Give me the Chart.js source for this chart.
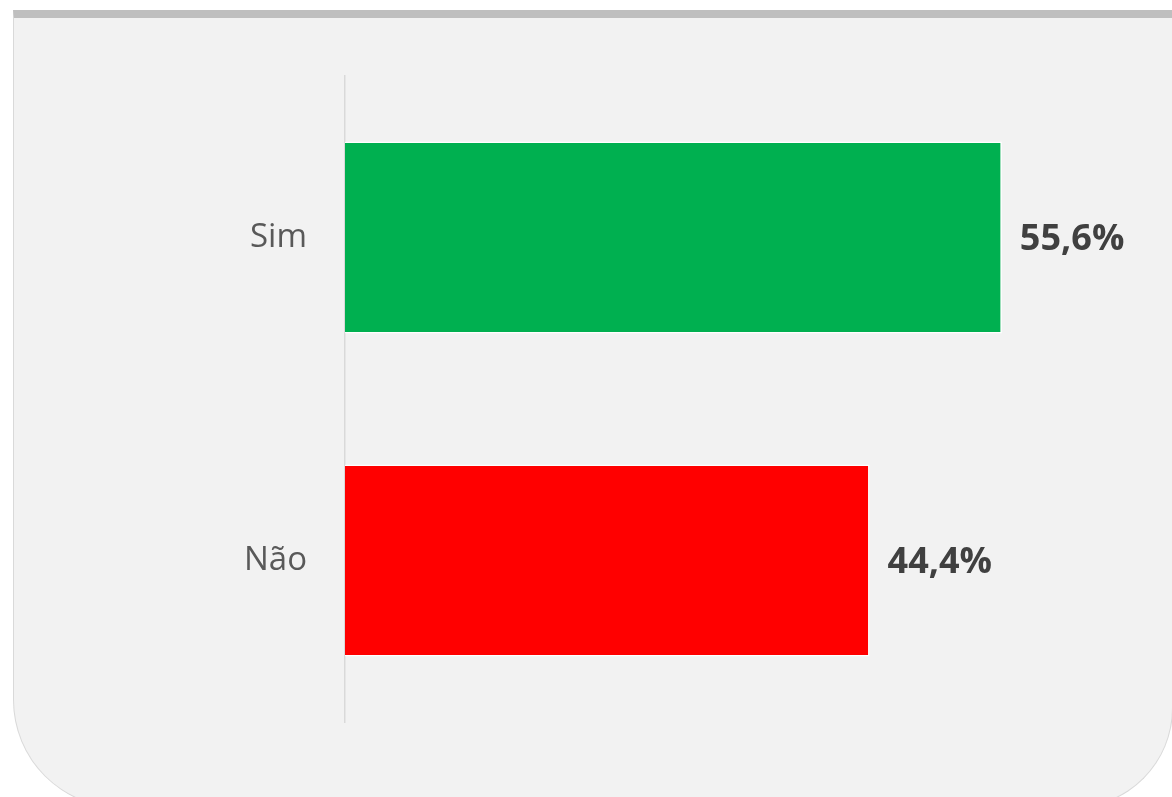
<!DOCTYPE html>
<html>
<head>
<meta charset="utf-8">
<script src="https://cdn.jsdelivr.net/npm/chart.js@4/dist/chart.umd.min.js"></script>
<style>
  html, body { margin: 0; padding: 0; background: #ffffff; overflow: hidden; }
  body { width: 1172px; height: 797px; position: relative; }
  #panel {
    position: absolute; left: 13px; top: 10px;
    width: 1158px; height: 789px;
    background: #f2f2f2;
    border-top: 8px solid #bfbfbf;
    border-left: 1px solid #d9d9d9;
    border-right: 1px solid #d9d9d9;
    border-bottom: 1px solid #d9d9d9;
    border-bottom-left-radius: 108px;
    border-bottom-right-radius: 100px;
  }
  #wrap { position: absolute; left: 0; top: 0; width: 1172px; height: 797px; }
</style>
</head>
<body>
<div id="panel"></div>
<div id="wrap"><canvas id="myChart"></canvas></div>
<script>
// categories and values (percent)
let categories = ["Sim", "Não"];
let values = [55.6, 44.4];

let barColors = ["#00b050", "#ff0000"];

// draws "55,6%" next to each bar
let valueLabels = {
  id: 'valueLabels',
  afterDatasetsDraw(chart) {
    let ctx = chart.ctx;
    let meta = chart.getDatasetMeta(0);
    ctx.save();
    ctx.font = 'bold 36px "Open Sans"';
    ctx.fillStyle = '#404040';
    ctx.textAlign = 'left';
    ctx.textBaseline = 'middle';
    meta.data.forEach(function (bar, i) {
      let txt = values[i].toFixed(1).replace('.', ',') + '%';
      ctx.fillText(txt, bar.x + 18, bar.y + 2);
    });
    ctx.restore();
  }
};

var ctx = document.getElementById('myChart').getContext('2d');
var myBarchart = new Chart(ctx, {
  type: 'bar',
  data: {
    labels: categories,
    datasets: [{
      data: values,
      backgroundColor: barColors,
      borderColor: '#ffffff',
      borderWidth: 1.5,
      categoryPercentage: 1,
      barPercentage: 0.595
    }]
  },
  options: {
    indexAxis: 'y',
    responsive: true,
    maintainAspectRatio: false,
    animation: false,
    layout: {
      padding: { left: 0, right: 0, top: 76, bottom: 75 }
    },
    plugins: {
      legend: { display: false },
      tooltip: { enabled: false }
    },
    scales: {
      x: {
        display: false,
        min: 0,
        max: 70
      },
      y: {
        grid: { display: false, drawTicks: false },
        border: { display: true, color: '#d9d9d9', width: 1.5 },
        ticks: {
          color: '#595959',
          padding: 38,
          font: { family: '"Open Sans"', size: 33 }
        },
        afterFit: function (scale) {
          scale.width = 345;
        }
      }
    }
  },
  plugins: [valueLabels]
});
</script>
</body>
</html>
